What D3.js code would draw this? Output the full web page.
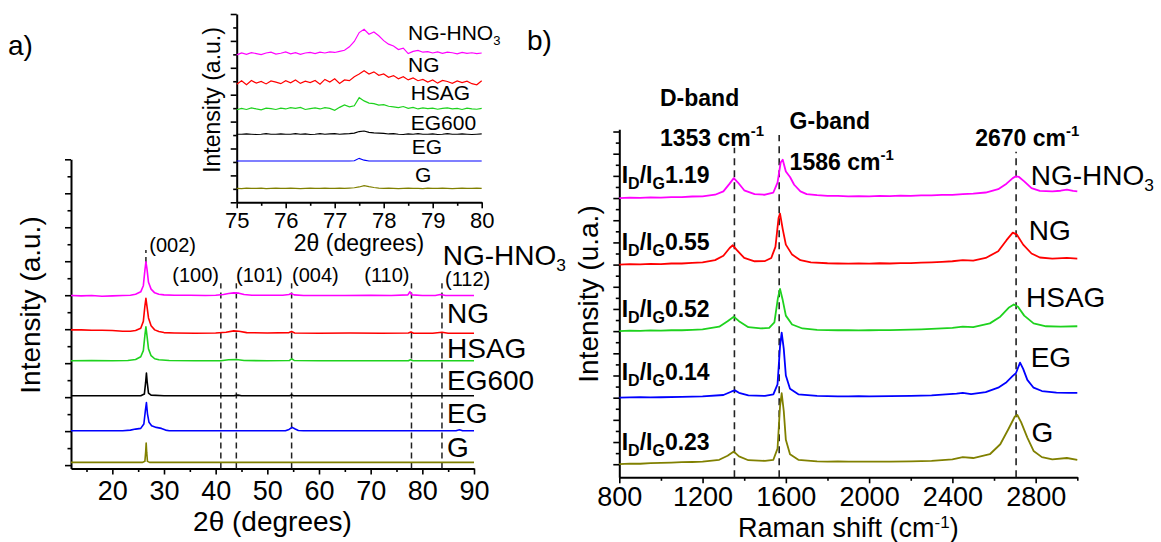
<!DOCTYPE html>
<html><head><meta charset="utf-8">
<script src="https://cdn.jsdelivr.net/npm/d3@7"></script>
<style>
body{margin:0;background:#fff}
text{font-family:"Liberation Sans",Arial,sans-serif;fill:#000}
</style></head>
<body><svg id="c" width="1161" height="542"></svg>
<script>
// ---------------- DATA ----------------
const seriesNames = ["NG-HNO3","NG","HSAG","EG600","EG","G"];
const seriesColors = {"NG-HNO3":"#ff00ff","NG":"#ff0000","HSAG":"#1ed21e","EG600":"#000000","EG":"#0000ff","G":"#808000"};

// XRD main (2theta, relative intensity)
const xrdOffsets = {"NG-HNO3":4.98,"NG":3.88,"HSAG":3.07,"EG600":2.04,"EG":1.01,"G":0.08};
const xrdNGHNO3 = [[12,0.01],[14,0.0],[16,0.01],[18,-0.01],[20,0.0],[22,0.01],[23.5,0.02],[24.5,0.05],[25.5,0.12],[26.0,0.3],[26.3,0.75],[26.5,1.0],[26.7,0.8],[27.0,0.4],[27.5,0.2],[28.2,0.09],[29,0.05],[30,0.03],[32,0.02],[35,0.02],[38,0.01],[40,0.02],[41.5,0.04],[42.5,0.07],[43.5,0.09],[44.5,0.08],[45.5,0.04],[47,0.02],[50,0.02],[53,0.02],[54.2,0.04],[54.6,0.07],[55.2,0.03],[57,0.01],[60,0.01],[65,0.01],[70,0.02],[74,0.01],[77.2,0.03],[77.6,0.12],[78.0,0.03],[80,0.01],[82.5,0.01],[83.5,0.04],[84.5,0.01],[87,0.01],[90,0.01]];
const xrdNG = [[12,0.10],[14,0.10],[16,0.09],[18,0.09],[20,0.08],[22,0.06],[23.5,0.06],[24.5,0.08],[25.5,0.15],[26.0,0.35],[26.3,0.8],[26.5,1.03],[26.7,0.8],[27.0,0.45],[27.5,0.22],[28.2,0.1],[29,0.05],[30,0.02],[32,0.01],[36,0.0],[40,0.01],[42,0.03],[43.5,0.07],[44.5,0.06],[46,0.02],[50,0.01],[54.2,0.02],[54.7,0.05],[55.3,0.01],[60,0.0],[66,0.01],[72,0.0],[77.3,0.01],[77.8,0.04],[78.3,0.0],[82,0.0],[83.8,0.03],[85,0.0],[90,0.0]];
const xrdHSAG = [[12,0.0],[16,0.01],[20,0.0],[23,0.01],[24.5,0.04],[25.5,0.12],[26.0,0.3],[26.3,0.75],[26.5,1.0],[26.7,0.75],[27.0,0.35],[27.5,0.15],[28.2,0.06],[29,0.03],[31,0.01],[36,0.0],[41,0.0],[42.5,0.03],[44,0.04],[45.5,0.01],[50,0.0],[54.3,0.01],[54.7,0.06],[55.2,0.01],[60,0.0],[70,0.0],[77.3,0.0],[77.7,0.03],[78.2,0.0],[84,0.0],[90,0.0]];
const xrdEG600 = [[12,0.0],[20,0.0],[25.5,0.0],[26.2,0.05],[26.45,0.4],[26.6,0.67],[26.75,0.4],[27.0,0.08],[27.5,0.02],[30,0.0],[43.5,0.0],[44.3,0.02],[45,0.0],[54.3,0.0],[54.7,0.02],[55.1,0.0],[90,0.0]];
const xrdEG = [[12,0.0],[18,0.0],[22,0.0],[23.5,0.02],[24.5,0.05],[25.5,0.07],[26.1,0.2],[26.4,0.6],[26.6,0.83],[26.8,0.5],[27.1,0.25],[27.6,0.15],[28.5,0.1],[29.5,0.07],[30.3,0.02],[31,0.0],[40,0.0],[50,0.0],[53.5,0.0],[54.2,0.04],[54.8,0.1],[55.3,0.06],[56,0.01],[57,0.0],[70,0.0],[86.5,0.0],[87.2,0.03],[87.8,0.0],[90,0.0]];
const xrdG = [[12,0.0],[25.8,0.0],[26.3,0.03],[26.45,0.3],[26.55,0.57],[26.65,0.3],[26.8,0.03],[27.2,0.0],[90,0.0]];
const xrdData = {"NG-HNO3":xrdNGHNO3,"NG":xrdNG,"HSAG":xrdHSAG,"EG600":xrdEG600,"EG":xrdEG,"G":xrdG};
const xrdTicksX = [20,30,40,50,60,70,80,90];
const xrdMinorX = [15,25,35,45,55,65,75,85];
const reflections = [{lab:"(002)",x:26.5},{lab:"(100)",x:41.0},{lab:"(101)",x:44.0},{lab:"(004)",x:54.7},{lab:"(110)",x:77.9},{lab:"(112)",x:83.8}];

// XRD inset (75-80 deg)
const insetX = [75.0,75.1,75.2,75.3,75.4,75.5,75.6,75.7,75.8,75.9,76.0,76.1,76.2,76.3,76.4,76.5,76.6,76.7,76.8,76.9,77.0,77.1,77.2,77.3,77.4,77.5,77.6,77.7,77.8,77.9,78.0,78.1,78.2,78.3,78.4,78.5,78.6,78.7,78.8,78.9,79.0,79.1,79.2,79.3,79.4,79.5,79.6,79.7,79.8,79.9,80.0];
const insetOffsets = {"NG-HNO3":5.53,"NG":4.47,"HSAG":3.47,"EG600":2.53,"EG":1.535,"G":0.52};
const insNGHNO3 = [-0.05,0.02,-0.03,0.03,0.0,-0.04,0.02,0.05,-0.02,0.01,0.06,-0.01,0.03,-0.03,0.02,0.04,0.0,0.05,0.02,0.06,0.04,0.08,0.12,0.25,0.45,0.78,0.9,0.72,0.8,0.66,0.48,0.35,0.28,0.15,0.2,0.0,0.08,0.12,0.05,0.07,0.02,0.06,0.01,0.05,0.03,-0.01,0.04,0.01,0.03,0.0,0.02];
const insNG = [-0.08,0.05,-0.1,0.06,-0.04,0.02,-0.07,0.04,0.0,-0.06,0.05,-0.03,0.08,-0.05,0.03,-0.02,0.06,-0.08,0.1,0.0,0.12,-0.05,0.08,0.05,0.2,0.3,0.42,0.3,0.38,0.25,0.3,0.18,0.24,0.12,0.2,0.08,0.15,0.05,0.1,0.0,0.08,-0.04,0.06,0.02,-0.05,0.04,-0.02,0.03,-0.06,-0.1,0.05];
const insHSAG = [-0.03,0.02,-0.02,0.04,0.0,-0.03,0.03,0.01,-0.02,0.03,0.0,0.05,0.02,0.06,-0.02,0.01,0.04,0.0,0.05,0.02,-0.05,0.06,0.15,0.08,0.12,0.42,0.3,0.22,0.2,0.14,0.16,0.1,0.08,0.05,0.09,0.02,0.06,0.0,0.04,0.01,0.03,-0.01,0.02,0.04,0.0,0.02,-0.02,0.03,0.0,-0.01,0.02];
const insEG600 = [0.0,0.0,0.01,0.0,-0.01,0.0,0.02,0.0,0.0,0.01,0.0,0.0,0.02,0.0,0.01,-0.01,0.0,0.02,0.0,0.01,0.02,0.0,0.01,0.02,0.04,0.1,0.12,0.07,0.05,0.04,0.03,0.01,0.02,0.0,-0.01,0.01,0.0,0.02,0.0,0.0,0.01,-0.01,0.0,0.02,0.0,0.0,0.01,0.0,-0.01,0.0,0.01];
const insEG = [0.0,0.0,0.0,0.0,0.0,0.0,0.0,0.0,0.0,0.0,0.0,0.0,0.0,0.0,0.0,0.0,0.0,0.0,0.0,0.0,0.0,0.0,0.0,0.0,0.01,0.1,0.03,0.0,0.0,0.0,0.0,0.0,0.0,0.0,0.0,0.0,0.0,0.0,0.0,0.0,0.0,0.0,0.0,0.0,0.0,0.0,0.0,0.0,0.0,0.0,0.0];
const insG = [0.0,-0.01,0.01,0.0,0.0,0.01,-0.01,0.0,0.01,0.0,0.0,0.01,0.0,-0.01,0.0,0.01,0.0,0.0,0.01,0.0,0.0,0.01,0.0,0.01,0.02,0.05,0.1,0.06,0.03,0.01,0.0,0.01,0.0,-0.01,0.0,0.01,0.0,0.0,-0.01,0.01,0.0,0.0,0.01,0.0,-0.01,0.0,0.01,0.0,0.0,0.01,0.0];
const insetData = {"NG-HNO3":insNGHNO3,"NG":insNG,"HSAG":insHSAG,"EG600":insEG600,"EG":insEG,"G":insG};
const insetTicksX = [75,76,77,78,79,80];

// Raman
const ramanNames = ["NG-HNO3","NG","HSAG","EG","G"];
const ramanOffsets = {"NG-HNO3":12,"NG":9,"HSAG":6,"EG":3,"G":0};
const ramanRatios = {"NG-HNO3":"1.19","NG":"0.55","HSAG":"0.52","EG":"0.14","G":"0.23"};
const ramNGHNO3 = [[800,0],[850,0.02],[900,0.01],[950,0.03],[1000,0.02],[1050,0.04],[1100,0.04],[1150,0.07],[1200,0.08],[1260,0.15],[1300,0.3],[1330,0.65],[1350,0.9],[1370,0.7],[1400,0.35],[1450,0.18],[1500,0.15],[1540,0.25],[1560,0.7],[1575,1.6],[1585,1.73],[1600,1.2],[1620,0.95],[1640,0.6],[1670,0.3],[1700,0.18],[1750,0.13],[1800,0.1],[1850,0.1],[1900,0.08],[1950,0.09],[2000,0.08],[2050,0.1],[2100,0.09],[2150,0.11],[2200,0.1],[2250,0.12],[2300,0.12],[2350,0.14],[2400,0.14],[2450,0.18],[2500,0.2],[2560,0.25],[2620,0.4],[2660,0.65],[2690,0.9],[2705,0.98],[2720,0.95],[2745,0.75],[2780,0.45],[2820,0.32],[2880,0.3],[2920,0.33],[2950,0.38],[2980,0.32],[3000,0.3]];
const ramNG = [[800,0],[850,0.02],[900,0.01],[950,0.03],[1000,0.02],[1050,0.05],[1100,0.05],[1150,0.08],[1200,0.1],[1260,0.2],[1300,0.4],[1330,0.75],[1345,0.87],[1365,0.65],[1400,0.3],[1450,0.15],[1500,0.16],[1530,0.3],[1550,0.8],[1565,2.1],[1572,2.3],[1585,1.6],[1600,0.9],[1630,0.45],[1670,0.2],[1720,0.1],[1800,0.06],[1850,0.05],[1900,0.04],[1950,0.05],[2000,0.04],[2050,0.06],[2100,0.05],[2150,0.07],[2200,0.07],[2250,0.09],[2300,0.1],[2350,0.12],[2400,0.15],[2450,0.2],[2500,0.18],[2560,0.3],[2620,0.6],[2660,1.1],[2690,1.44],[2710,1.35],[2740,0.9],[2780,0.5],[2820,0.32],[2880,0.27],[2950,0.3],[3000,0.27]];
const ramHSAG = [[800,0],[850,0.02],[900,0.01],[950,0.03],[1000,0.02],[1050,0.04],[1100,0.04],[1150,0.06],[1200,0.08],[1280,0.2],[1320,0.45],[1350,0.65],[1375,0.45],[1420,0.18],[1480,0.12],[1520,0.15],[1545,0.4],[1562,1.5],[1572,1.9],[1585,1.4],[1600,0.7],[1630,0.3],[1680,0.12],[1750,0.06],[1800,0.05],[1850,0.04],[1900,0.05],[1950,0.03],[2000,0.04],[2050,0.05],[2100,0.05],[2150,0.06],[2200,0.07],[2250,0.08],[2300,0.1],[2350,0.12],[2400,0.15],[2450,0.2],[2500,0.18],[2580,0.35],[2630,0.65],[2670,1.05],[2695,1.2],[2715,1.1],[2745,0.7],[2790,0.35],[2850,0.22],[2920,0.2],[3000,0.22]];
const ramEG = [[800,0],[850,0.01],[900,0.02],[950,0.01],[1000,0.02],[1100,0.04],[1200,0.06],[1300,0.12],[1340,0.28],[1355,0.33],[1375,0.22],[1420,0.1],[1500,0.08],[1540,0.15],[1560,0.6],[1572,2.3],[1580,2.93],[1590,2.2],[1600,1.0],[1620,0.4],[1660,0.15],[1750,0.08],[1800,0.07],[1850,0.06],[1900,0.06],[1950,0.07],[2000,0.06],[2100,0.07],[2200,0.08],[2300,0.1],[2420,0.18],[2450,0.22],[2490,0.16],[2560,0.25],[2620,0.45],[2660,0.7],[2690,0.98],[2705,1.1],[2725,1.58],[2740,1.3],[2760,0.8],[2790,0.45],[2830,0.3],[2900,0.23],[2960,0.22],[3000,0.22]];
const ramG = [[800,0],[850,0.03],[900,0.02],[950,0.05],[1000,0.06],[1050,0.07],[1100,0.09],[1150,0.1],[1200,0.12],[1280,0.2],[1320,0.38],[1350,0.57],[1375,0.35],[1420,0.18],[1500,0.15],[1540,0.2],[1560,0.7],[1572,2.6],[1580,3.2],[1590,2.4],[1600,1.1],[1620,0.45],[1660,0.2],[1750,0.13],[1800,0.12],[1850,0.13],[1900,0.12],[2000,0.12],[2100,0.12],[2200,0.13],[2300,0.15],[2400,0.22],[2450,0.32],[2500,0.28],[2580,0.45],[2630,0.9],[2670,1.6],[2700,2.15],[2712,2.22],[2730,1.9],[2760,1.2],[2790,0.6],[2830,0.32],[2880,0.22],[2950,0.28],[3000,0.2]];
const ramanData = {"NG-HNO3":ramNGHNO3,"NG":ramNG,"HSAG":ramHSAG,"EG":ramEG,"G":ramG};
const ramanTicksX = [800,1200,1600,2000,2400,2800];
const ramanMinorX = [1000,1400,1800,2200,2600,3000];
const ramanBands = [{x:1353,top:14.27},{x:1568,top:14.84},{x:2706,top:14.09}];

// ---------------- DRAW ----------------
const svg = d3.select("#c");
const F = '"Liberation Sans",Arial,sans-serif';

function axisStyle(g){ g.selectAll("path.domain").attr("stroke","#000").attr("stroke-width",2);
  g.selectAll(".tick line").attr("stroke","#000").attr("stroke-width",1.6);
  g.selectAll(".tick text").attr("fill","#000").style("font-family",F); }

function drawAxes(x,y,opt){
  const gx = svg.append("g").attr("transform",`translate(0,${y.range()[0]})`)
    .call(d3.axisBottom(x).tickValues(opt.xMajor).tickSize(6).tickSizeOuter(0).tickPadding(opt.xPad).tickFormat(d3.format("d")));
  gx.selectAll(".tick text").style("font-size",opt.xFont+"px");
  axisStyle(gx);
  if(opt.xMinor){ const gm = svg.append("g").attr("transform",`translate(0,${y.range()[0]})`)
    .call(d3.axisBottom(x).tickValues(opt.xMinor).tickSize(3.5).tickSizeOuter(0).tickFormat(""));
    gm.select("path.domain").remove(); axisStyle(gm); }
  const gy = svg.append("g").attr("transform",`translate(${x.range()[0]},0)`)
    .call(d3.axisLeft(y).tickValues(opt.yMajor).tickSize(6).tickSizeOuter(0).tickFormat(""));
  axisStyle(gy);
  const gym = svg.append("g").attr("transform",`translate(${x.range()[0]},0)`)
    .call(d3.axisLeft(y).tickValues(opt.yMinor).tickSize(3.5).tickSizeOuter(0).tickFormat(""));
  gym.select("path.domain").remove(); axisStyle(gym);
}
function range(a,b,s){const r=[];for(let v=a;v<=b+1e-9;v+=s)r.push(+v.toFixed(3));return r;}

function label(x,y,main,sub,size,color,opts={}){
  const t = svg.append("text").attr("x",x).attr("y",y).style("font-size",size+"px").attr("fill",color)
    .style("font-weight",opts.bold?"bold":"normal");
  t.append("tspan").text(main);
  if(sub){ t.append("tspan").attr("dy",size*0.22).style("font-size",(size*0.62)+"px").text(sub); }
  return t;
}

// ---- Panel a main ----
const xa = d3.scaleLinear().domain([12,90]).range([71,474]);
const ya = d3.scaleLinear().domain([-0.1,9.0]).range([468.5,159.3]);
drawAxes(xa,ya,{xMajor:xrdTicksX,xMinor:xrdMinorX,xPad:6,xFont:27,yMajor:range(0,9,1),yMinor:range(0.5,8.5,1)});

reflections.forEach((r,i)=>{
  const y0 = i===0?5.95:-0.1, y1 = i===0?6.33:5.35;
  svg.append("line").attr("x1",xa(r.x)).attr("x2",xa(r.x)).attr("y1",ya(y0)).attr("y2",ya(y1))
    .attr("stroke","#222").attr("stroke-width",1.5).attr("stroke-dasharray","6,4");
});
const lineA = off => d3.line().x(d=>xa(d[0])).y(d=>ya(d[1]+off));
seriesNames.slice().reverse().forEach(n=>{
  svg.append("path").datum(xrdData[n]).attr("d",lineA(xrdOffsets[n])).attr("fill","none")
    .attr("stroke",seriesColors[n]).attr("stroke-width",1.6).attr("stroke-linejoin","round");
});
const reflPos = [[149.3,251.5],[172.3,281.7],[236,281.7],[292,281.7],[364.3,281.7],[445,286]];
reflections.forEach((r,i)=> label(reflPos[i][0],reflPos[i][1],r.lab,null,20,"#000"));
const aLab = {"NG-HNO3":[442.7,264.5],"NG":[447,323.3],"HSAG":[447,358.3],"EG600":[447,390],"EG":[447,423.3],"G":[447,456.7]};
seriesNames.forEach(n=>{ const s=n==="NG-HNO3"; label(aLab[n][0],aLab[n][1],s?"NG-HNO":n,s?"3":null,28,seriesColors[n]); });
svg.append("text").attr("x",272.5).attr("y",531).attr("text-anchor","middle").style("font-size","28px").text("2θ (degrees)");
svg.append("text").attr("transform","translate(40,305) rotate(-90)").attr("text-anchor","middle").style("font-size","28px").text("Intensity (a.u.)");
svg.append("text").attr("x",8).attr("y",55).style("font-size","28px").text("a)");

// ---- Inset ----
const xi = d3.scaleLinear().domain([75,80]).range([236.7,481.7]);
const yi = d3.scaleLinear().domain([0,7]).range([202.3,14]);
svg.append("rect").attr("x",236.7).attr("y",14).attr("width",245).attr("height",188.3).attr("fill","#fff");
drawAxes(xi,yi,{xMajor:insetTicksX,xMinor:[75.5,76.5,77.5,78.5,79.5],xPad:4,xFont:22,yMajor:range(0,7,1),yMinor:range(0.5,6.5,1)});
seriesNames.slice().reverse().forEach(n=>{
  const off = insetOffsets[n];
  const pts = insetX.map((x,i)=>[x,insetData[n][i]]);
  svg.append("path").datum(pts).attr("d",d3.line().x(d=>xi(d[0])).y(d=>yi(d[1]+off))).attr("fill","none")
    .attr("stroke",seriesColors[n]).attr("stroke-width",1.2);
});
const iLab = {"NG-HNO3":[408,40],"NG":[408,71.7],"HSAG":[410.7,100],"EG600":[410.7,130],"EG":[411.7,154],"G":[415,181.7]};
seriesNames.forEach(n=>{ const s=n==="NG-HNO3"; label(iLab[n][0],iLab[n][1],s?"NG-HNO":n,s?"3":null,21,seriesColors[n]); });
svg.append("text").attr("x",359).attr("y",251).attr("text-anchor","middle").style("font-size","23px").text("2θ (degrees)");
svg.append("text").attr("transform","translate(220,100) rotate(-90)").attr("text-anchor","middle").style("font-size","23px").text("Intensity (a.u.)");

// ---- Panel b ----
const xb = d3.scaleLinear().domain([800,3000]).range([619.3,1077.3]);
const yb = d3.scaleLinear().domain([-0.59,15.1]).range([477.3,129.3]);
drawAxes(xb,yb,{xMajor:ramanTicksX,xMinor:ramanMinorX,xPad:4,xFont:27,yMajor:range(0,15,1),yMinor:range(0.5,14.5,1)});
ramanBands.forEach(b=>{
  svg.append("line").attr("x1",xb(b.x)).attr("x2",xb(b.x)).attr("y1",yb(-0.59)).attr("y2",yb(b.top))
    .attr("stroke","#222").attr("stroke-width",1.6).attr("stroke-dasharray","7,5");
});
ramanNames.slice().reverse().forEach(n=>{
  const off = ramanOffsets[n];
  svg.append("path").datum(ramanData[n]).attr("d",d3.line().x(d=>xb(d[0])).y(d=>yb(d[1]+off))).attr("fill","none")
    .attr("stroke",seriesColors[n]).attr("stroke-width",1.8).attr("stroke-linejoin","round");
});
const ratioY = {"NG-HNO3":183.3,"NG":250,"HSAG":316.7,"EG":380,"G":450};
ramanNames.forEach(n=>{
  const t = svg.append("text").attr("x",621.7).attr("y",ratioY[n]).style("font-size","23px").style("font-weight","bold");
  t.append("tspan").text("I");
  t.append("tspan").attr("dy",6).style("font-size","16px").text("D");
  t.append("tspan").attr("dy",-6).text("/I");
  t.append("tspan").attr("dy",6).style("font-size","16px").text("G");
  t.append("tspan").attr("dy",-6).text(ramanRatios[n]);
});
const bLab = {"NG-HNO3":[1030.7,185],"NG":[1028.8,240],"HSAG":[1026,306.7],"EG":[1030.7,366.7],"G":[1031.5,441.7]};
ramanNames.forEach(n=>{ const s=n==="NG-HNO3"; label(bLab[n][0],bLab[n][1],s?"NG-HNO":n,s?"3":null,28,seriesColors[n]); });
function supText(x,y,main,sup,size,bold){
  const t = svg.append("text").attr("x",x).attr("y",y).style("font-size",size+"px").style("font-weight",bold?"bold":"normal");
  t.append("tspan").text(main);
  t.append("tspan").attr("dy",-size*0.42).style("font-size",(size*0.65)+"px").text(sup);
  return t;
}
svg.append("text").attr("x",660).attr("y",106).style("font-size","23px").style("font-weight","bold").text("D-band");
supText(660,146,"1353 cm","-1",23,true);
svg.append("text").attr("x",789.6).attr("y",129.3).style("font-size","23px").style("font-weight","bold").text("G-band");
supText(789.6,170,"1586 cm","-1",23,true);
supText(975.2,146,"2670 cm","-1",23,true);
const rt = svg.append("text").attr("x",848.3).attr("y",537).attr("text-anchor","middle").style("font-size","27px");
rt.append("tspan").text("Raman shift (cm");
rt.append("tspan").attr("dy",-9).style("font-size","17px").text("-1");
rt.append("tspan").attr("dy",9).text(")");
svg.append("text").attr("transform","translate(598,294) rotate(-90)").attr("text-anchor","middle").style("font-size","28px").text("Intensity (u.a.)");
svg.append("text").attr("x",527).attr("y",50).style("font-size","28px").text("b)");
</script></body></html>
